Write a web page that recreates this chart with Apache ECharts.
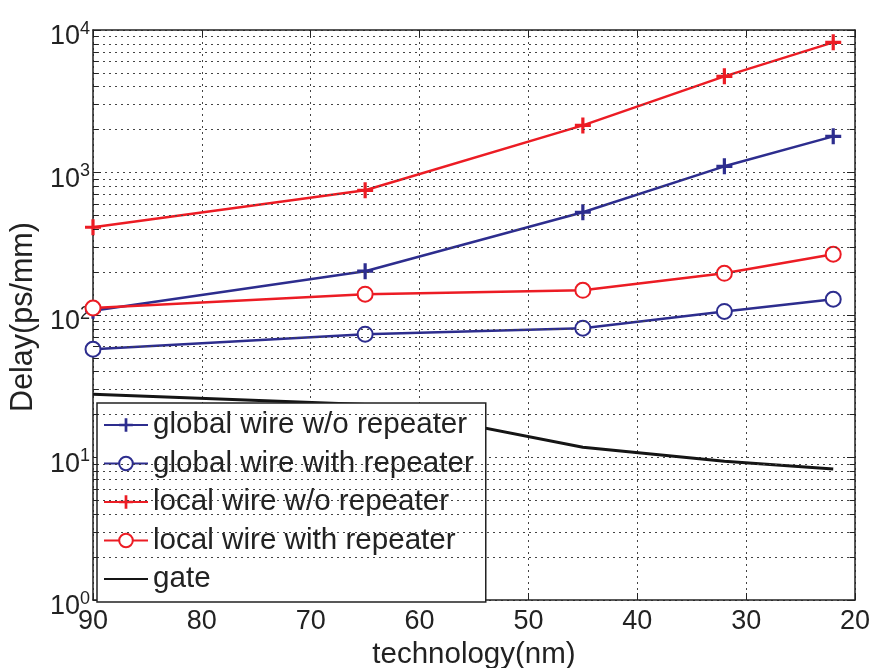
<!DOCTYPE html>
<html>
<head>
<meta charset="utf-8">
<script src="https://cdn.jsdelivr.net/npm/echarts@6/dist/echarts.min.js"></script>
<style>
  html, body { margin: 0; padding: 0; background: #fff; }
  #chart { width: 877px; height: 668px; }
</style>
</head>
<body>
<div id="chart"></div>
<script>
const TECH_NODES = [90, 65, 45, 32, 22];
const GLOBAL_NO_REP = [107, 203, 526, 1105, 1794];
const GLOBAL_REP = [57.5, 73.4, 80.8, 106, 129];
const LOCAL_NO_REP = [413, 750, 2140, 4730, 8190];
const LOCAL_REP = [112, 140, 149, 196, 267];
const GATE = [27.8, 23.5, 11.8, 9.4, 8.3];

const Y_DECADES = [1, 10, 100, 1000];
const MINOR_STEPS = [2, 3, 4, 5, 6, 7, 8, 9];

const BLUE = "#2d2d8e";
const RED = "#ec1c24";
const BLACK = "#151515";
const FONT = "Liberation Sans";
const PLUS = "path://M4,0h2v4h4v2h-4v4h-2v-4h-4v-2h4z";

const minorValues = Y_DECADES.flatMap((d) => MINOR_STEPS.map((m) => d * m));

function toPoints(values) {
  return TECH_NODES.map((x, i) => [x, values[i]]);
}

function wireSeries(name, values, color, symbol) {
  return {
    name,
    type: "line",
    data: toPoints(values),
    symbol,
    symbolSize: symbol === PLUS ? 16 : 15,
    showSymbol: true,
    lineStyle: { color, width: 2.5 },
    itemStyle: symbol === PLUS
      ? { color, borderWidth: 0 }
      : { color, borderColor: color, borderWidth: 2.5 },
    z: 3,
  };
}

const chart = echarts.init(document.getElementById("chart"));

const gridLineStyle = { color: "#444", width: 1, type: [2, 4] };

chart.setOption({
  animation: false,
  textStyle: { fontFamily: FONT },
  grid: { left: 93, right: 22, top: 30, bottom: 68, outerBoundsMode: "none", containLabel: false },
  xAxis: [
    {
      type: "value",
      inverse: true,
      min: 20,
      max: 90,
      interval: 10,
      name: "technology(nm)",
      nameLocation: "middle",
      nameGap: 38,
      nameTextStyle: { fontSize: 29.5, color: "#222", fontFamily: FONT },
      axisLine: { lineStyle: { color: "#222", width: 1.5 } },
      axisTick: { inside: true, length: 7, lineStyle: { color: "#222" } },
      axisLabel: { fontSize: 27, color: "#222", margin: 8, fontFamily: FONT },
      splitLine: { show: true, lineStyle: gridLineStyle },
    },
    {
      type: "value",
      inverse: true,
      position: "top",
      min: 20,
      max: 90,
      interval: 10,
      axisLine: { lineStyle: { color: "#222", width: 1.5 } },
      axisTick: { inside: true, length: 7, lineStyle: { color: "#222" } },
      axisLabel: { show: false },
      splitLine: { show: false },
    },
  ],
  yAxis: [
    {
      type: "log",
      logBase: 10,
      min: 1,
      max: 10000,
      name: "Delay(ps/mm)",
      nameLocation: "middle",
      nameGap: 54,
      nameTextStyle: { fontSize: 30.5, color: "#222", fontFamily: FONT, padding: [0, 4, 0, 0] },
      axisLine: { show: true, lineStyle: { color: "#222", width: 1.5 } },
      axisTick: { show: true, inside: true, length: 8, lineStyle: { color: "#222" } },
      axisLabel: {
        margin: 3,
        color: "#222",
        padding: [14, 0, 0, 0],
        formatter: (v) => "{b|10}{s|" + Math.round(Math.log10(v)) + "}",
        rich: {
          b: { fontSize: 27, fontFamily: FONT, color: "#222" },
          s: { fontSize: 18, fontFamily: FONT, color: "#222", padding: [0, 0, 16, 0] },
        },
      },
      splitLine: { show: true, lineStyle: gridLineStyle },
    },
    {
      type: "log",
      logBase: 10,
      min: 1,
      max: 10000,
      position: "right",
      axisLine: { show: true, lineStyle: { color: "#222", width: 1.5 } },
      axisTick: { show: true, inside: true, length: 8, lineStyle: { color: "#222" } },
      axisLabel: { show: false },
      splitLine: { show: false },
    },
  ],
  legend: {
    orient: "vertical",
    left: 97,
    top: 403,
    padding: [7, 12, 8, 6],
    itemWidth: 44,
    itemHeight: 17,
    itemGap: 8.5,
    backgroundColor: "#fff",
    borderColor: "#222",
    borderWidth: 1.5,
    borderRadius: 0,
    textStyle: { fontSize: 29.6, lineHeight: 30, color: "#222", fontFamily: FONT },
    data: [
      "global wire w/o repeater",
      "global wire with repeater",
      "local wire w/o repeater",
      "local wire with repeater",
      { name: "gate", itemStyle: { color: "rgba(0,0,0,0)", borderColor: "rgba(0,0,0,0)", opacity: 0 } },
    ],
  },
  series: [
    {
      name: "minor grid",
      type: "line",
      data: [],
      z: 1,
      silent: true,
      markLine: {
        silent: true,
        symbol: "none",
        label: { show: false },
        animation: false,
        lineStyle: gridLineStyle,
        data: minorValues.map((v) => ({ yAxis: v })),
      },
    },
    {
      name: "minor ticks",
      type: "line",
      data: [],
      z: 1,
      silent: true,
      markLine: {
        silent: true,
        symbol: "none",
        label: { show: false },
        animation: false,
        lineStyle: { color: "#222", width: 1, type: "solid" },
        data: minorValues.flatMap((v) => [
          [{ coord: [90, v] }, { coord: [89.5, v] }],
          [{ coord: [20, v] }, { coord: [20.5, v] }],
        ]),
      },
    },
    wireSeries("global wire w/o repeater", GLOBAL_NO_REP, BLUE, PLUS),
    wireSeries("global wire with repeater", GLOBAL_REP, BLUE, "emptyCircle"),
    wireSeries("local wire w/o repeater", LOCAL_NO_REP, RED, PLUS),
    wireSeries("local wire with repeater", LOCAL_REP, RED, "emptyCircle"),
    {
      name: "gate",
      type: "line",
      data: toPoints(GATE),
      symbol: "circle",
      showSymbol: false,
      lineStyle: { color: BLACK, width: 3 },
      itemStyle: { color: BLACK },
      z: 3,
    },
  ],
});
</script>
</body>
</html>
